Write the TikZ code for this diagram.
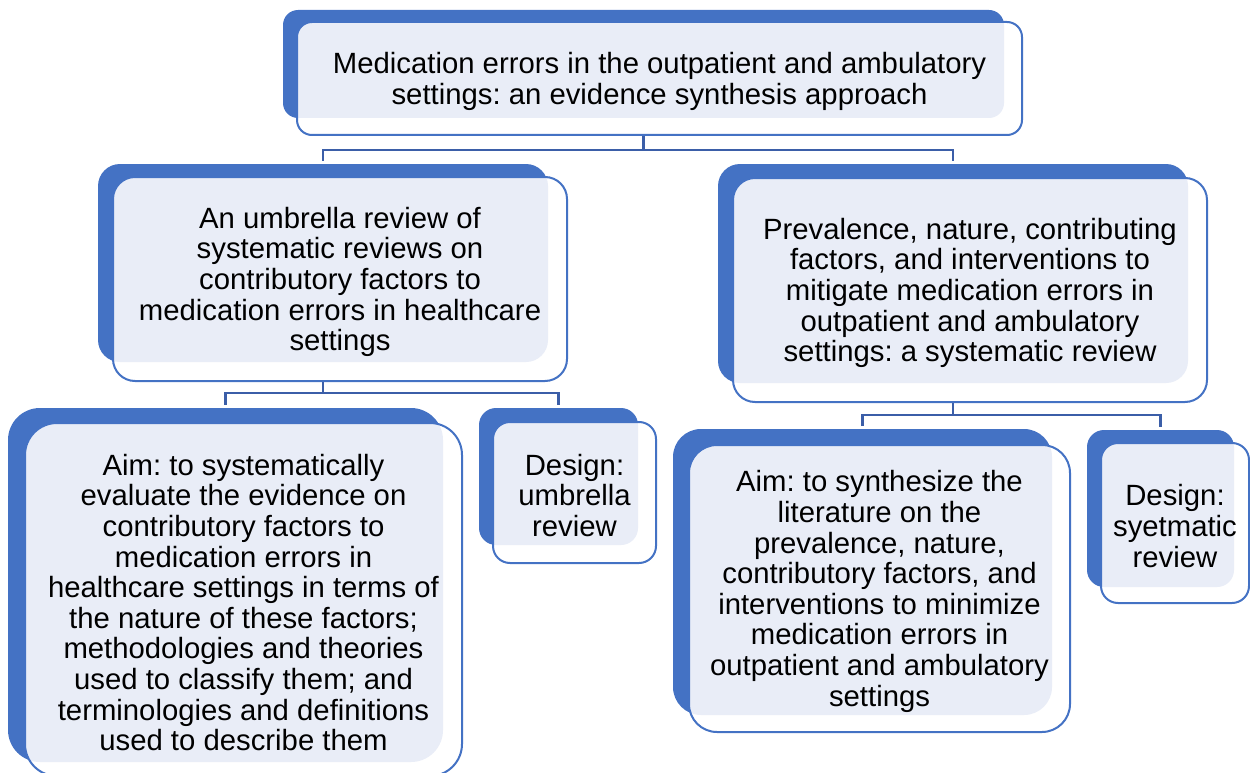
\documentclass[tikz,border=0pt]{standalone}
\usepackage{fontspec}
\setmainfont{Liberation Sans}
\frenchspacing
\usetikzlibrary{calc}
\pgfdeclarelayer{background}
\pgfsetlayers{background,main}

\definecolor{plateblue}{HTML}{4472C4}
\definecolor{platetint}{HTML}{E9EDF7}
\definecolor{linkblue}{HTML}{3B5EA8}

\tikzset{
  backplate/.style={fill=plateblue, draw=none, inner sep=0pt, outer sep=0pt},
  frontfill/.style={fill=white, draw=none, inner sep=0pt, outer sep=0pt},
  frontline/.style={draw=plateblue, line width=2, fill=none, inner sep=0pt, outer sep=0pt},
  platetext/.style={inner sep=0pt, align=center, text=black,
    font=\fontsize{29.3}{30.6}\selectfont},
  link/.style={draw=linkblue, line width=2.3, shorten >=3},
}

% #1 name, #2 back centre, #3/#4 back size, #5 front centre, #6/#7 front size, #8 radius, #9 text
\newcommand\plates[9]{%
  \node[backplate, rounded corners=#8, minimum width=#3, minimum height=#4] (#1) at #2 {};
  \node[frontfill, rounded corners=#8, minimum width=#6, minimum height=#7] (#1-f) at #5 {};
  \begin{scope}
    \clip[rounded corners=#8] (#1.south west) rectangle (#1.north east);
    \fill[platetint, rounded corners=#8] (#1-f.south west) rectangle (#1-f.north east);
  \end{scope}
  \node[frontline, rounded corners=#8, minimum width=#6, minimum height=#7] (#1-b) at (#1-f) {};
  \node[platetext] (#1-t) at ($(#1-f)+(0,3)$) {#9};
}

\begin{document}
\begin{tikzpicture}[x=1pt, y=-1pt]
\useasboundingbox (0,0) rectangle (1250,773);

\plates{top}{(643.5,64)}{721}{108}{(659.5,78.5)}{725}{113}{15}
  {Medication errors in the outpatient and ambulatory\\settings: an evidence synthesis approach}

\plates{ml}{(323,263)}{450}{198}{(340,279)}{454}{204}{22}
  {An umbrella review of\\systematic reviews on\\contributory factors to\\medication errors in healthcare\\settings}

\plates{mr}{(953,273.5)}{470}{219}{(970,290)}{474}{224}{22}
  {Prevalence, nature, contributing\\factors, and interventions to\\mitigate medication errors in\\outpatient and ambulatory\\settings: a systematic review}

\plates{aiml}{(225.5,585)}{435}{354}{(243.5,599.5)}{437}{353}{32}
  {Aim: to systematically\\evaluate the evidence on\\contributory factors to\\medication errors in\\healthcare settings in terms of\\the nature of these factors;\\methodologies and theories\\used to classify them; and\\terminologies and definitions\\used to describe them}

\plates{desl}{(558.5,476.5)}{159}{137}{(574.5,492.5)}{163}{141}{17}
  {Design:\\umbrella\\review}

\plates{aimr}{(862.5,572)}{379}{286}{(879.5,588.5)}{381}{287}{28}
  {Aim: to synthesize the\\literature on the\\prevalence, nature,\\contributory factors, and\\interventions to minimize\\medication errors in\\outpatient and ambulatory\\settings}

\plates{desr}{(1160.5,508.5)}{147}{157}{(1175,523)}{148}{160}{17}
  {Design:\\syetmatic\\review}

% elbow connectors, kept under the boxes
\begin{pgfonlayer}{background}
  \draw[link] (top.south) -- ++(0,32) -| (ml.north);
  \draw[link] (top.south) -- ++(0,32) -| (mr.north);
  \draw[link] (ml.south) -- ++(0,31) -| (aiml.north);
  \draw[link] (ml.south) -- ++(0,31) -| (desl.north);
  \draw[link] (mr.south) -- ++(0,32) -| (aimr.north);
  \draw[link] (mr.south) -- ++(0,32) -| (desr.north);
\end{pgfonlayer}
\end{tikzpicture}
\end{document}
